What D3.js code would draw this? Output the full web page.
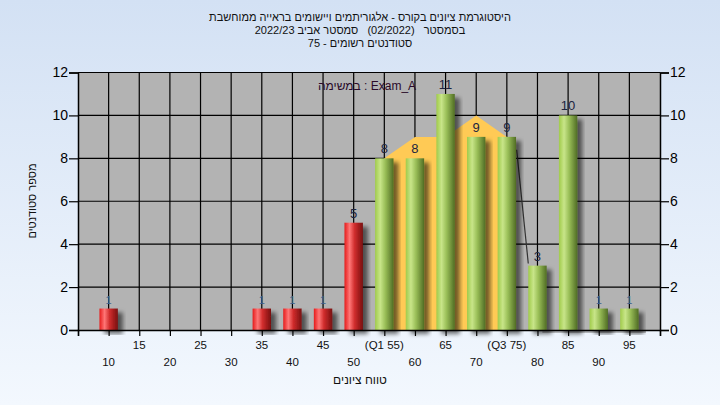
<!DOCTYPE html>
<html><head><meta charset="utf-8">
<script src="https://cdn.jsdelivr.net/npm/d3@7/dist/d3.min.js"></script>
<style>html,body{margin:0;padding:0;overflow:hidden;}</style>
</head><body>
<svg id="chart" width="720" height="405"></svg>
<script>
// ---- data ----
const categories = [10,15,20,25,30,35,40,45,50,55,60,65,70,75,80,85,90,95];
const counts     = [1, 0, 0, 0, 0, 1, 1, 1, 5, 8, 8, 11,9, 9, 3, 10,1, 1];
const passScore = 55;
const areaX = [55,60,65,70,75];
const areaY = [8, 9, 9, 10, 9];
const lineX = [76.6, 78.5];
const lineY = [8.4, 3.1];
const xTickValues = [10,15,20,25,30,35,40,45,50,55,60,65,70,75,80,85,90,95];
const xTickLabels = ["10","15","20","25","30","35","40","45","50","(Q1 55)","60","65","70","(Q3 75)","80","85","90","95"];
const yTicks = [0,2,4,6,8,10,12];
const titleLines = [
  "היסטוגרמת ציונים בקורס - אלגוריתמים ויישומים בראייה ממוחשבת",
  "בסמסטר\u00A0\u00A0 (02/2022)\u00A0\u00A0 סמסטר אביב 2022/23",
  "סטודנטים רשומים - 75"
];
const examLabel = "במשימה : Exam_A";
const xTitle = "טווח ציונים";
const yTitle = "מספר סטודנטים";

// ---- layout ----
const W = 720, H = 405;
const L = 78, R = 660, T = 72.5, B = 330;
const svg = d3.select("#chart");
const defs = svg.append("defs");

const bg = defs.append("linearGradient").attr("id","bg").attr("x1",0).attr("y1",0).attr("x2",0).attr("y2",1);
bg.append("stop").attr("offset","0%").attr("stop-color","#d3e1f4");
bg.append("stop").attr("offset","100%").attr("stop-color","#f3f8fe");

function cyl(id, stops){
  const g = defs.append("linearGradient").attr("id",id).attr("x1",0).attr("y1",0).attr("x2",1).attr("y2",0);
  stops.forEach(s=>g.append("stop").attr("offset",s[0]).attr("stop-color",s[1]));
}
cyl("gGreen", [["0%","#a0cb4a"],["28%","#c8e589"],["55%","#9abf58"],["100%","#506d24"]]);
cyl("gRed",   [["0%","#e51b1b"],["28%","#ff7676"],["55%","#d02c2c"],["100%","#781010"]]);

const f = defs.append("filter").attr("id","shadow").attr("x","-20%").attr("y","-10%").attr("width","160%").attr("height","130%");
f.append("feDropShadow").attr("dx",5).attr("dy",4).attr("stdDeviation",2).attr("flood-color","#000").attr("flood-opacity",0.55);

svg.append("rect").attr("width",W).attr("height",H).attr("fill","url(#bg)");

const x = d3.scaleLinear().domain([5,100]).range([L,R]);
const y = d3.scaleLinear().domain([0,12]).range([B,T]);
const barW = x(8) - x(5);

// plot background
svg.append("rect").attr("x",L).attr("y",T).attr("width",R-L).attr("height",B-T).attr("fill","#b3b3b3");

// grid
const grid = svg.append("g").attr("stroke","#000").attr("stroke-width",1.2);
grid.selectAll("line.h").data(yTicks.filter(d=>d>0)).join("line")
  .attr("x1",L).attr("x2",R).attr("y1",d=>y(d)).attr("y2",d=>y(d));
grid.selectAll("line.v").data(xTickValues).join("line")
  .attr("y1",T).attr("y2",B).attr("x1",d=>x(d)).attr("x2",d=>x(d));

// yellow area
const areaData = areaX.map((d,i)=>({x:d,y:areaY[i]}));
svg.append("path").datum(areaData)
  .attr("d", d3.area().x(d=>x(d.x)).y0(y(0)).y1(d=>y(d.y)))
  .attr("fill","#ffca55");

// trend line segment
const lineData = lineX.map((d,i)=>({x:d,y:lineY[i]}));
svg.append("path").datum(lineData)
  .attr("d", d3.line().x(d=>x(d.x)).y(d=>y(d.y)))
  .attr("stroke","#333").attr("stroke-width",1.2).attr("fill","none");
svg.append("line").attr("x1",x(80.8)).attr("x2",x(97.7)).attr("y1",y(0)+2).attr("y2",y(0)+2)
  .attr("stroke","#777").attr("stroke-width",1);

// bars
const barData = categories.map((c,i)=>({c, v:counts[i]})).filter(d=>d.v>0);
svg.append("g").selectAll("rect").data(barData).join("rect")
  .attr("x",d=>x(d.c)-barW/2).attr("width",barW)
  .attr("y",d=>y(d.v)).attr("height",d=>y(0)-y(d.v))
  .attr("fill",d=>d.c<passScore?"url(#gRed)":"url(#gGreen)")
  .attr("filter","url(#shadow)");

// value labels
const fam = "Liberation Sans, Arial, sans-serif";
svg.append("g").selectAll("text").data(barData).join("text")
  .attr("x",d=>x(d.c)).attr("y",d=>y(d.v)-5)
  .attr("text-anchor","middle")
  .attr("font-family",fam)
  .attr("font-size",d=>d.v===1?11:13)
  .attr("fill",d=>d.v===1?"#3c5f8c":"#1c2540")
  .text(d=>d.v);

// axes
const yl = svg.append("g").attr("transform",`translate(${L},0)`)
  .call(d3.axisLeft(y).tickValues(yTicks).tickSize(9).tickPadding(1).tickFormat(d3.format("d")));
const yr = svg.append("g").attr("transform",`translate(${R},0)`)
  .call(d3.axisRight(y).tickValues(yTicks).tickSize(9).tickPadding(1).tickFormat(d3.format("d")));
[yl,yr].forEach(g=>{
  g.selectAll("path.domain").attr("stroke","#000").attr("stroke-width",1.5);
  g.selectAll(".tick line").attr("stroke","#000").attr("stroke-width",1.2);
  g.selectAll(".tick text").attr("font-family",fam).attr("font-size",14).attr("fill","#000");
});
const xa = svg.append("g").attr("transform",`translate(0,${B})`)
  .call(d3.axisBottom(x).tickValues([5].concat(xTickValues).concat([100])).tickSize(6).tickFormat(""));
xa.selectAll("path.domain").attr("stroke","#000").attr("stroke-width",1.5);
xa.selectAll(".tick line").attr("stroke","#000").attr("stroke-width",1.2);

// x tick labels in two rows
svg.append("g").selectAll("text").data(xTickValues).join("text")
  .attr("x",d=>x(d)).attr("y",(d,i)=> (i%2===1) ? 349 : 366)
  .attr("text-anchor","middle").attr("font-family",fam).attr("font-size",11.5).attr("fill","#111")
  .text((d,i)=>xTickLabels[i]);

// titles
svg.append("g").selectAll("text").data(titleLines).join("text")
  .attr("x",360).attr("y",(d,i)=>21+i*13)
  .attr("text-anchor","middle").attr("direction","rtl")
  .attr("font-family",fam).attr("font-size",11).attr("fill","#111")
  .text(d=>d);

svg.append("text").attr("x",367).attr("y",90).attr("text-anchor","middle").attr("direction","ltr")
  .attr("font-family",fam).attr("font-size",12).attr("fill","#2a0a2a")
  .text(examLabel);

svg.append("text").attr("x",360).attr("y",384).attr("text-anchor","middle").attr("direction","rtl")
  .attr("font-family",fam).attr("font-size",12).attr("fill","#111").text(xTitle);

svg.append("text").attr("transform","translate(36,201) rotate(-90)").attr("text-anchor","middle").attr("direction","rtl")
  .attr("font-family",fam).attr("font-size",11).attr("fill","#111").text(yTitle);
</script>
</body></html>
